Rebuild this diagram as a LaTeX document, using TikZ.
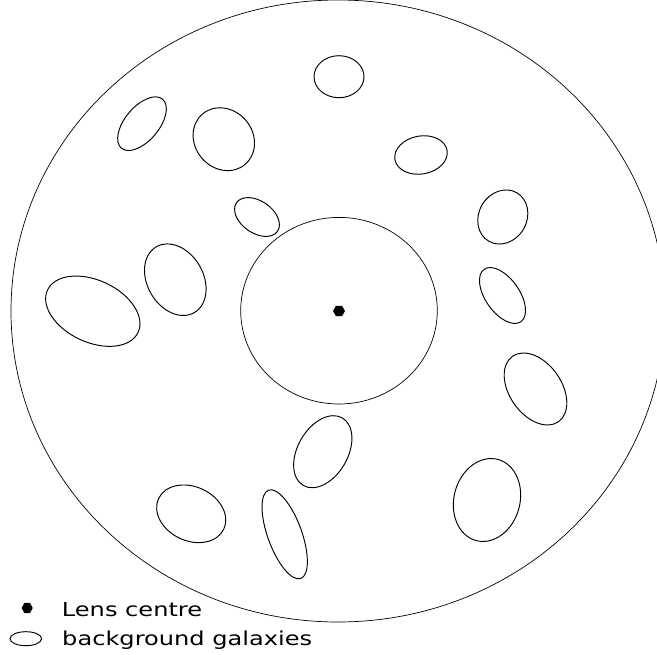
\documentclass[tikz,border=0pt]{standalone}
\usepackage{fontspec}
\setmainfont{DejaVu Sans}
\begin{document}
\begin{tikzpicture}[x=1pt,y=-1pt,
  galaxy/.style={draw=black,line width=0.95pt},
  ring/.style={draw=black,line width=0.7pt},
  legendtext/.style={anchor=base west,inner sep=0pt,font=\fontsize{19.2}{22}\selectfont}]
\useasboundingbox (0,0) rectangle (657,655);
\clip (0,0) rectangle (657,655);
% outer and inner circles
\draw[ring] (338,311) ellipse (327 and 311);
\draw[ring] (339,310.7) ellipse (98.3 and 93.3);
% lens centre
\fill (339,311) +(-6,0) -- +(-3,-5.2) -- +(3,-5.2) -- +(6,0) -- +(3,5.2) -- +(-3,5.2) -- cycle;
% background galaxies
\draw[galaxy] (339,76.7) ellipse (25 and 21);
\draw[galaxy,rotate around={10:(421,155)}] (421,155) ellipse (26.5 and 19);
\draw[galaxy,rotate around={50:(142,123.7)}] (142,123.7) ellipse (32 and 17);
\draw[galaxy,rotate around={-50:(223.8,139.2)}] (223.8,139.2) ellipse (33 and 29);
\draw[galaxy,rotate around={-35:(257,217)}] (257,217) ellipse (25 and 16);
\draw[galaxy,rotate around={60:(502.8,217)}] (502.8,217) ellipse (28 and 24);
\draw[galaxy,rotate around={-55:(502.5,295.5)}] (502.5,295.5) ellipse (32 and 17);
\draw[galaxy,rotate around={-55:(535.5,389)}] (535.5,389) ellipse (40 and 26);
\draw[galaxy,rotate around={-25:(92.8,311.2)}] (92.8,311.2) ellipse (50 and 31);
\draw[galaxy,rotate around={-60:(175.3,279.7)}] (175.3,279.7) ellipse (38 and 28);
\draw[galaxy,rotate around={60:(322.8,451.7)}] (322.8,451.7) ellipse (39 and 25);
\draw[galaxy,rotate around={-25:(191.2,513.8)}] (191.2,513.8) ellipse (36 and 27);
\draw[galaxy,rotate around={-70:(284.7,534.3)}] (284.7,534.3) ellipse (47 and 17);
\draw[galaxy,rotate around={75:(487,500)}] (487,500) ellipse (42 and 33);
% legend
\fill (27.2,608) +(-5.5,0) -- +(-2.75,-5.2) -- +(2.75,-5.2) -- +(5.5,0) -- +(2.75,5.2) -- +(-2.75,5.2) -- cycle;
\node[legendtext] (lens) at (61.7,616.7) {\scalebox{1.255}[1]{Lens centre}};
\draw[galaxy] (25.8,638.7) ellipse (15.8 and 7);
\node[legendtext] (bg) at (62,645) {\scalebox{1.255}[1]{background galaxies}};
\end{tikzpicture}
\end{document}
